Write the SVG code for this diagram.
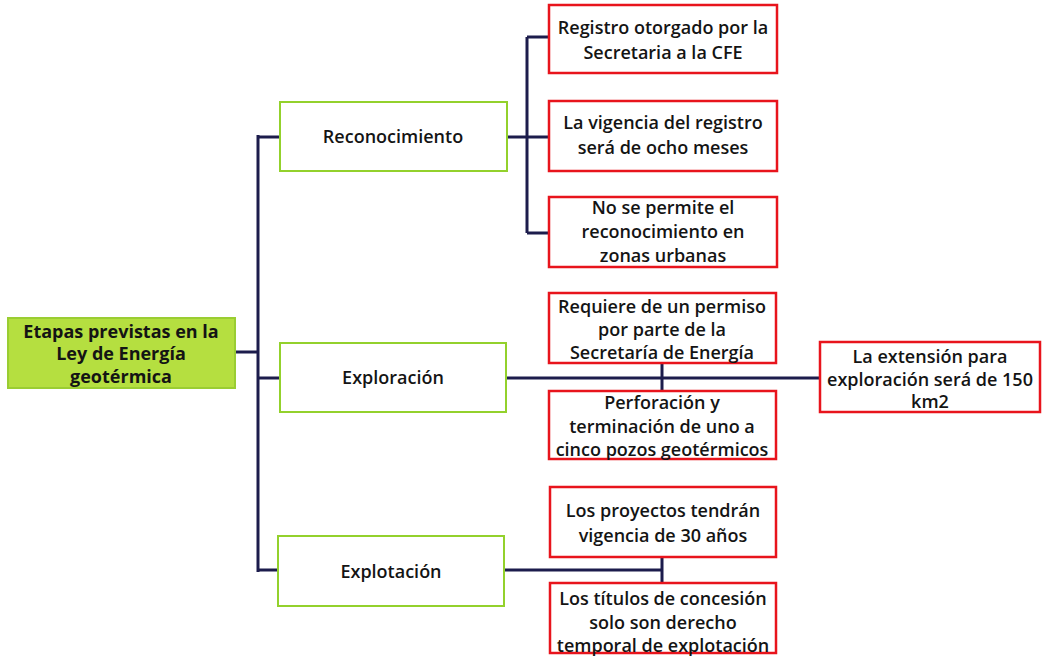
<svg xmlns="http://www.w3.org/2000/svg" width="1042" height="662" viewBox="0 0 1042 662">
<style>
text{font-family:"Open Sans","Liberation Sans",sans-serif;font-weight:600;font-size:18px;fill:#141414;text-anchor:middle}
.b{font-weight:700}
.g{fill:#fff;stroke:#93d12c;stroke-width:2}
.r{fill:#fff;stroke:#e8141c;stroke-width:2.5}
.c{fill:none;stroke:#1c1c4c;stroke-width:3}
</style>
<rect width="1042" height="662" fill="#fff"/>
<g id="connectors">
<path class="c" d="M235,352H258M258,135V572M258,137H280M258,378H280M257,570H278"/>
<path class="c" d="M507,137H548M527,37V233M527,37H548M527,233H548"/>
<path class="c" d="M505,378H820" stroke-width="2"/>
<path class="c" d="M662,363V391"/>
<path class="c" d="M504,570H662M662,557V583" stroke-width="3.5"/>
</g>
<g id="root"><rect x="8" y="318" width="227" height="70" fill="#b5df40" stroke="#9acd32" stroke-width="2"/>
<text class="b" x="121" y="338">Etapas previstas en la</text><text class="b" x="121" y="360">Ley de Energía</text><text class="b" x="121" y="383">geotérmica</text></g>
<g id="reconocimiento"><rect class="g" x="280" y="102" width="227" height="69"/><text x="393" y="143">Reconocimiento</text></g>
<g id="exploracion"><rect class="g" x="280" y="343" width="226" height="69"/><text x="393" y="384">Exploración</text></g>
<g id="explotacion"><rect class="g" x="278" y="536" width="226" height="70"/><text x="391" y="578">Explotación</text></g>
<g id="registro"><rect class="r" x="549" y="5" width="228" height="68"/><text x="663" y="34">Registro otorgado por la</text><text x="663" y="59">Secretaria a la CFE</text></g>
<g id="vigencia"><rect class="r" x="549" y="101" width="228" height="70"/><text x="663" y="129">La vigencia del registro</text><text x="663" y="154">será de ocho meses</text></g>
<g id="urbanas"><rect class="r" x="549" y="197" width="228" height="70"/><text x="663" y="214">No se permite el</text><text x="663" y="238">reconocimiento en</text><text x="663" y="262">zonas urbanas</text></g>
<g id="permiso"><rect class="r" x="549" y="293" width="227" height="70"/><text x="662" y="313">Requiere de un permiso</text><text x="662" y="336">por parte de la</text><text x="662" y="359">Secretaría de Energía</text></g>
<g id="perforacion"><rect class="r" x="549" y="391" width="227" height="68"/><text x="662" y="409">Perforación y</text><text x="662" y="433">terminación de uno a</text><text x="662" y="456">cinco pozos geotérmicos</text></g>
<g id="extension"><rect class="r" x="820" y="342" width="220" height="70"/><text x="930" y="363">La extensión para</text><text x="930" y="386">exploración será de 150</text><text x="930" y="408">km2</text></g>
<g id="proyectos"><rect class="r" x="550" y="487" width="226" height="70"/><text x="663" y="517">Los proyectos tendrán</text><text x="663" y="542">vigencia de 30 años</text></g>
<g id="titulos"><rect class="r" x="550" y="583" width="226" height="70"/><text x="663" y="605">Los títulos de concesión</text><text x="663" y="629">solo son derecho</text><text x="663" y="652">temporal de explotación</text></g>
</svg>
